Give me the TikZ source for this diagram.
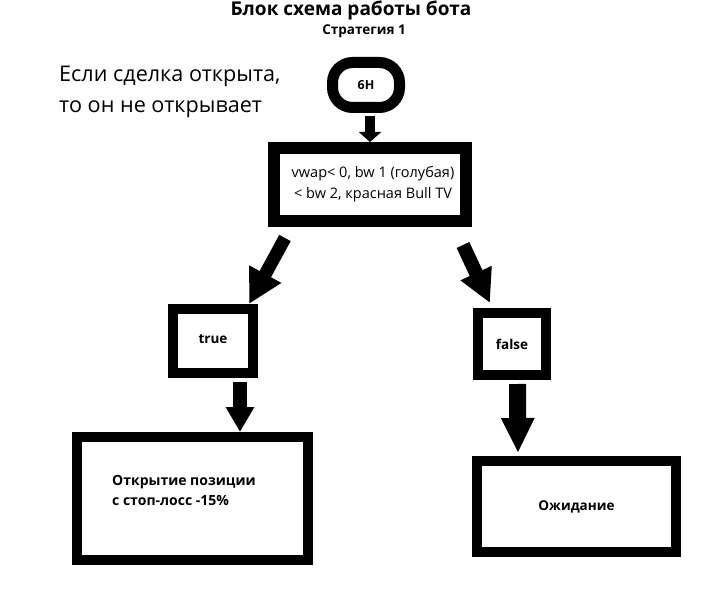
\documentclass[tikz,border=0pt]{standalone}
\usepackage{fontspec}
\setmainfont{Open Sans}
\usetikzlibrary{arrows.meta}
\begin{document}
\begin{tikzpicture}[x=1pt,y=-1pt,
  box/.style={draw=black,line width=10pt,fill=white,inner sep=0pt,font=\fontsize{13.5}{17}\selectfont\bfseries},
  txt/.style={inner sep=0pt,font=\fontsize{14.5}{21}\selectfont},
]
\useasboundingbox[fill=white] (0,0) rectangle (710,599);
% titles
\node[inner sep=0pt,anchor=base,font=\fontsize{19}{20}\selectfont\bfseries] (title) at (351,16) {Блок схема работы бота};
\node[inner sep=0pt,anchor=base,font=\fontsize{13.5}{14}\selectfont\bfseries] (sub) at (364,35) {Стратегия 1};
% note
\node[inner sep=0pt,anchor=base west,font=\fontsize{21.6}{31}\selectfont] (note1) at (59,82) {Если сделка открыта,};
\node[inner sep=0pt,anchor=base west,font=\fontsize{21.6}{31}\selectfont] (note2) at (59,113) {то он не открывает};
% nodes
\node[box,line width=11pt,rounded corners=20pt,minimum width=67pt,minimum height=45pt,font=\fontsize{12.5}{14}\selectfont\bfseries] (sixh) at (366,85) {6H};
\node[box,line width=12pt,minimum width=192pt,minimum height=73pt] (dec) at (370,184.5) {};
\node[txt,align=center] (dectext) at (373,184) {vwap< 0, bw 1 (голубая)\\< bw 2, красная Bull TV};
\node[box,minimum width=80pt,minimum height=64pt] (true) at (213,341) {\raisebox{3pt}{true}\hspace{9pt}};
\node[box,minimum width=68pt,minimum height=62pt] (false) at (512,344) {false};
\node[box,minimum width=231pt,minimum height=123pt] (open) at (192.5,498.5) {};
\node[inner sep=0pt,align=left,anchor=west,font=\fontsize{14}{20}\selectfont\bfseries] (opentext) at (112,490) {Открытие позиции\\с стоп-лосс -15\%};
\node[box,minimum width=199pt,minimum height=91pt] (wait) at (576.5,506.5) {Ожидание};
% connectors
\draw[draw=black,line width=10pt,-{Triangle[width=22pt,length=10pt]}] ([shift={(4,3)}]sixh.south) -- (dec.north);
\draw[draw=black,line width=13pt,-{Triangle[width=34pt,length=34pt]}] ([shift={(-85,11)}]dec.south) -- ([xshift=36pt]true.north);
\draw[draw=black,line width=14pt,-{Triangle[width=32pt,length=33pt]}] ([shift={(93,18)}]dec.south) -- ([shift={(-22,-5)}]false.north);
\draw[draw=black,line width=14pt,-{Triangle[width=27pt,length=25pt]}] ([shift={(27,4)}]true.south) -- ([xshift=47.5pt]open.north);
\draw[draw=black,line width=17pt,-{Triangle[width=31pt,length=35pt]}] ([shift={(5.5,4)}]false.south) -- ([shift={(-58.5,-3)}]wait.north);
\end{tikzpicture}
\end{document}
